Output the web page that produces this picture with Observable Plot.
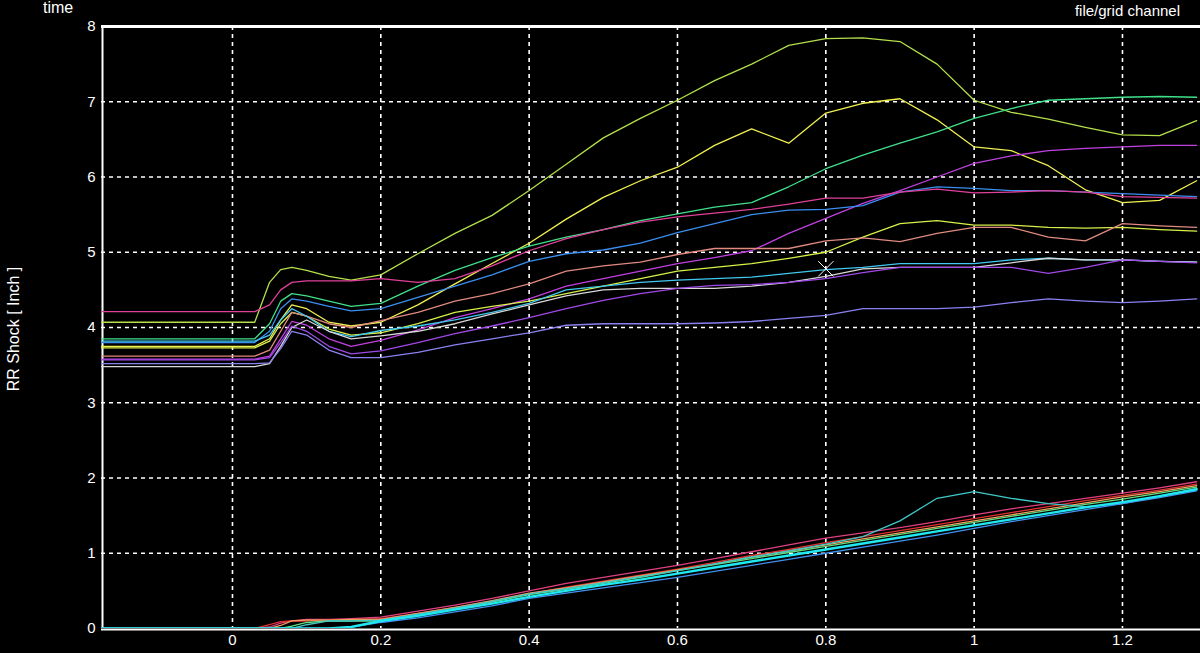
<!DOCTYPE html>
<html><head><meta charset="utf-8">
<script src="https://cdn.jsdelivr.net/npm/d3@7"></script>
<script src="https://cdn.jsdelivr.net/npm/@observablehq/plot@0.6"></script>
<style>
html,body{margin:0;padding:0;background:#000;}
#wrap{position:relative;width:1200px;height:653px;background:#000;overflow:hidden;font-family:"Liberation Sans",Arial,sans-serif;}
.lab{position:absolute;color:#fff;white-space:nowrap;z-index:2;}
#ylab{position:absolute;left:-86px;top:320px;width:200px;text-align:center;transform:rotate(-90deg);color:#fff;font-size:16px;z-index:2;}
svg{display:block;}
</style></head><body>
<div id="wrap">
<div class="lab" style="left:43px;top:-1px;font-size:16px">time</div>
<div class="lab" style="right:20px;top:2px;font-size:15px">file/grid channel</div>
<div id="ylab">RR Shock [ Inch ]</div>
</div>
<script>
// time axis samples (s)
const T = [-0.18, 0.03, 0.05, 0.065, 0.08, 0.1, 0.13, 0.16, 0.2, 0.25, 0.3, 0.35, 0.4, 0.45, 0.5, 0.55, 0.6, 0.65, 0.7, 0.75, 0.8, 0.85, 0.9, 0.95, 1.0, 1.05, 1.1, 1.15, 1.2, 1.25, 1.3];

// upper traces (shock position)
const shockA = [4.07, 4.07, 4.6, 4.77, 4.8, 4.76, 4.68, 4.63, 4.7, 4.98, 5.25, 5.49, 5.82, 6.17, 6.52, 6.78, 7.02, 7.28, 7.5, 7.75, 7.84, 7.85, 7.8, 7.5, 7.02, 6.86, 6.77, 6.66, 6.56, 6.55, 6.75];
const shockB = [3.75, 3.75, 3.85, 4.1, 4.3, 4.25, 4.07, 4.02, 4.07, 4.3, 4.58, 4.85, 5.12, 5.44, 5.73, 5.95, 6.13, 6.42, 6.64, 6.45, 6.85, 6.98, 7.04, 6.76, 6.4, 6.35, 6.15, 5.83, 5.66, 5.69, 5.95];
const shockC = [3.85, 3.85, 4.05, 4.35, 4.45, 4.42, 4.35, 4.28, 4.32, 4.55, 4.76, 4.93, 5.08, 5.2, 5.3, 5.42, 5.51, 5.6, 5.66, 5.87, 6.11, 6.29, 6.45, 6.6, 6.78, 6.91, 7.02, 7.04, 7.06, 7.07, 7.06];
const shockD = [3.58, 3.58, 3.62, 3.85, 4.08, 4.03, 3.85, 3.75, 3.83, 3.97, 4.13, 4.25, 4.38, 4.55, 4.65, 4.75, 4.85, 4.93, 5.02, 5.25, 5.45, 5.65, 5.82, 6.0, 6.18, 6.28, 6.35, 6.38, 6.4, 6.42, 6.42];
const shockE = [3.8, 3.8, 3.95, 4.25, 4.38, 4.35, 4.28, 4.22, 4.25, 4.4, 4.55, 4.7, 4.88, 4.98, 5.03, 5.12, 5.26, 5.38, 5.5, 5.56, 5.57, 5.62, 5.8, 5.87, 5.85, 5.82, 5.82, 5.8, 5.78, 5.76, 5.74];
const shockF = [4.21, 4.21, 4.3, 4.5, 4.6, 4.62, 4.62, 4.62, 4.65, 4.6, 4.65, 4.82, 5.02, 5.18, 5.3, 5.4, 5.47, 5.52, 5.57, 5.64, 5.72, 5.72, 5.8, 5.84, 5.79, 5.8, 5.82, 5.8, 5.74, 5.73, 5.72];
const shockG = [3.73, 3.73, 3.82, 4.05, 4.2, 4.15, 3.98, 3.9, 3.93, 4.05, 4.2, 4.28, 4.35, 4.45, 4.55, 4.65, 4.75, 4.8, 4.85, 4.92, 5.0, 5.2, 5.38, 5.42, 5.36, 5.36, 5.33, 5.32, 5.33, 5.3, 5.28];
const shockH = [3.62, 3.62, 3.7, 3.95, 4.2, 4.15, 4.05, 4.0, 4.09, 4.2, 4.35, 4.45, 4.58, 4.75, 4.82, 4.87, 4.97, 5.05, 5.05, 5.05, 5.15, 5.19, 5.14, 5.25, 5.33, 5.33, 5.2, 5.15, 5.38, 5.35, 5.33];
const shockI = [3.82, 3.82, 3.9, 4.1, 4.25, 4.15, 3.95, 3.88, 3.96, 4.02, 4.1, 4.2, 4.32, 4.5, 4.55, 4.6, 4.63, 4.65, 4.67, 4.72, 4.77, 4.8, 4.85, 4.85, 4.85, 4.9, 4.92, 4.9, 4.9, 4.88, 4.87];
const shockJ = [3.48, 3.48, 3.52, 3.75, 4.0, 4.1, 3.95, 3.85, 3.89, 3.95, 4.05, 4.18, 4.3, 4.42, 4.5, 4.52, 4.52, 4.52, 4.55, 4.6, 4.68, 4.78, 4.8, 4.8, 4.8, 4.86, 4.92, 4.9, 4.9, 4.88, 4.87];
const shockK = [3.57, 3.57, 3.6, 3.8, 4.02, 3.95, 3.75, 3.65, 3.69, 3.8, 3.92, 4.02, 4.13, 4.25, 4.36, 4.45, 4.52, 4.56, 4.57, 4.6, 4.65, 4.73, 4.8, 4.8, 4.8, 4.8, 4.72, 4.8, 4.9, 4.88, 4.86];
const shockL = [3.52, 3.52, 3.53, 3.72, 3.95, 3.9, 3.7, 3.6, 3.6, 3.67, 3.77, 3.85, 3.93, 4.03, 4.05, 4.05, 4.05, 4.06, 4.08, 4.12, 4.16, 4.25, 4.25, 4.25, 4.27, 4.33, 4.38, 4.35, 4.33, 4.35, 4.38];

// lower traces
const lowP = [0, 0, 0.02, 0.07, 0.1, 0.12, 0.12, 0.13, 0.15, 0.23, 0.31, 0.4, 0.5, 0.6, 0.68, 0.76, 0.84, 0.93, 1.02, 1.11, 1.2, 1.27, 1.34, 1.42, 1.51, 1.59, 1.66, 1.73, 1.8, 1.87, 1.95];
const lowQ = [0, 0, 0.05, 0.09, 0.1, 0.1, 0.11, 0.12, 0.13, 0.2, 0.28, 0.36, 0.46, 0.55, 0.63, 0.71, 0.79, 0.88, 0.97, 1.05, 1.14, 1.22, 1.3, 1.38, 1.46, 1.54, 1.62, 1.7, 1.77, 1.84, 1.92];
const lowR = [0, 0, 0, 0.04, 0.1, 0.11, 0.11, 0.12, 0.12, 0.2, 0.28, 0.37, 0.47, 0.54, 0.62, 0.7, 0.78, 0.86, 0.95, 1.03, 1.11, 1.19, 1.27, 1.35, 1.43, 1.51, 1.59, 1.67, 1.75, 1.82, 1.9];
const lowS = [0, 0, 0, 0, 0.03, 0.08, 0.1, 0.1, 0.1, 0.17, 0.26, 0.35, 0.45, 0.52, 0.6, 0.68, 0.77, 0.85, 0.93, 1.01, 1.09, 1.17, 1.25, 1.33, 1.41, 1.49, 1.57, 1.65, 1.72, 1.8, 1.88];
const lowT = [0, 0, 0, 0, 0, 0, 0, 0.02, 0.1, 0.17, 0.25, 0.33, 0.42, 0.5, 0.58, 0.65, 0.73, 0.81, 0.89, 0.97, 1.05, 1.13, 1.21, 1.29, 1.37, 1.45, 1.53, 1.61, 1.68, 1.76, 1.85];
const lowU = [0, 0, 0, 0, 0, 0, 0, 0.02, 0.08, 0.14, 0.22, 0.3, 0.4, 0.47, 0.54, 0.61, 0.68, 0.76, 0.84, 0.92, 1.0, 1.08, 1.16, 1.24, 1.33, 1.42, 1.5, 1.58, 1.66, 1.74, 1.83];
const lowV = [0, 0, 0, 0, 0, 0.05, 0.1, 0.1, 0.11, 0.19, 0.27, 0.36, 0.46, 0.53, 0.61, 0.69, 0.77, 0.86, 0.95, 1.03, 1.12, 1.22, 1.43, 1.73, 1.82, 1.73, 1.66, 1.62, 1.66, 1.76, 1.86];

const upperSeries = [shockA, shockB, shockC, shockD, shockE, shockF, shockG, shockH, shockI, shockJ, shockK, shockL];
const upperColors = ["#b4e04a", "#f0f050", "#40e08a", "#c040e0", "#3a8ef0", "#e0409a", "#d8f048", "#e08a80", "#40c8f0", "#d8d8d8", "#a048e8", "#8a80f0"];
const lowerSeries = [lowP, lowQ, lowR, lowS, lowV, lowU, lowT];
const lowerColors = ["#e04080", "#e03030", "#f0a060", "#60e080", "#40c8c8", "#4090f0", "#20e8f0"];
const lowerWidths = [1.3, 1.3, 1.3, 1.3, 1.3, 1.3, 2.4];

const xTicks = [0, 0.2, 0.4, 0.6, 0.8, 1, 1.2];
const yTicks = [0, 1, 2, 3, 4, 5, 6, 7, 8];
const yGrid = [1, 2, 3, 4, 5, 6, 7];
const xDomain = [-0.1766, 1.3052];
const yDomain = [0, 8];
const cursor = [{t: 0.8, v: 4.78}];

const fmt = d => String(+d.toFixed(1));
const marks = [
  Plot.gridX(xTicks, {stroke: "#fff", strokeOpacity: 1, strokeWidth: 1.6, strokeDasharray: "4,4"}),
  Plot.gridY(yGrid, {stroke: "#fff", strokeOpacity: 1, strokeWidth: 1.6, strokeDasharray: "4,4"}),
  Plot.axisY(yTicks, {tickSize: 0, tickPadding: 6, fontSize: 15, tickFormat: fmt, label: null}),
  Plot.axisX(xTicks, {tickSize: 0, tickPadding: 6, fontSize: 15, tickFormat: fmt, label: null}),
  Plot.ruleY([yDomain[0]], {stroke: "#fff", strokeWidth: 2, dy: 1}),
  Plot.ruleX([xDomain[0]], {stroke: "#fff", strokeWidth: 2, dx: 1}),
];
upperSeries.forEach((vals, i) => {
  marks.push(Plot.line(T, {x: d => d, y: vals, stroke: upperColors[i], strokeWidth: 1.3, clip: true}));
});
lowerSeries.forEach((vals, i) => {
  marks.push(Plot.line(T, {x: d => d, y: vals, stroke: lowerColors[i], strokeWidth: lowerWidths[i], clip: true}));
});
marks.push(Plot.dot(cursor, {x: "t", y: "v", symbol: "times", r: 7, stroke: "#fff", strokeWidth: 1}));
marks.push(Plot.ruleY([yDomain[1]], {stroke: "#fff", strokeWidth: 3}));

const chart = Plot.plot({
  width: 1200,
  height: 653,
  marginLeft: 101,
  marginRight: 0,
  marginTop: 26,
  marginBottom: 25,
  x: {domain: xDomain},
  y: {domain: yDomain},
  style: {background: "#000", color: "#fff", fontFamily: "Liberation Sans, Arial, sans-serif", fontSize: "15px"},
  marks
});
chart.style.position = "absolute";
chart.style.left = "0";
chart.style.top = "0";
document.getElementById("wrap").appendChild(chart);
</script>
</body></html>
